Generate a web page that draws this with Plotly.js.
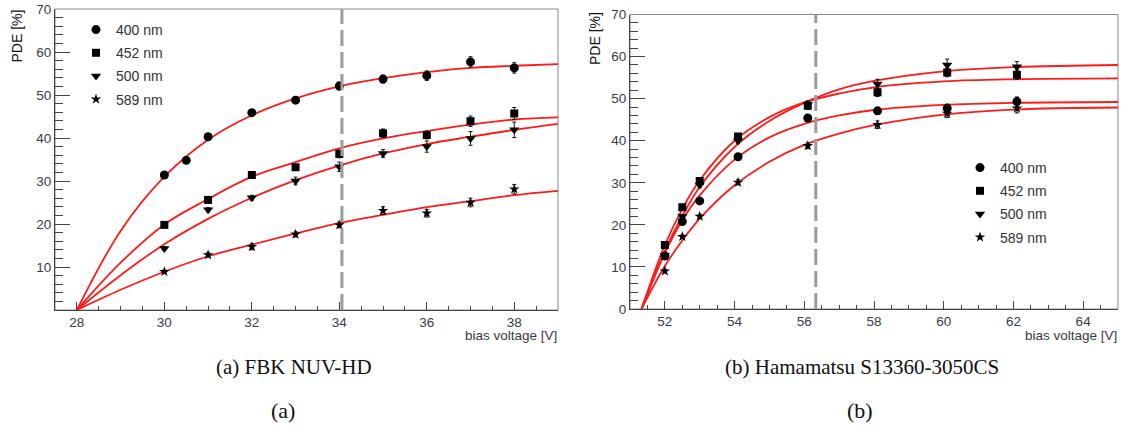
<!DOCTYPE html>
<html>
<head>
<meta charset="utf-8">
<script src="https://cdn.plot.ly/plotly-3.0.1.min.js"></script>
<style>
html,body{margin:0;padding:0;background:#fff;}
#chart{width:1131px;height:428px;}
</style>
</head>
<body>
<div id="chart"></div>
<script>
// ---------- Data: (a) FBK NUV-HD ----------
const seriesNames = ['400 nm', '452 nm', '500 nm', '589 nm'];

const fbkX400 = [30, 30.5, 31, 32, 33, 34, 35, 36, 37, 38];
const fbkY400 = [31.4, 34.8, 40.3, 45.9, 48.8, 52.1, 53.7, 54.5, 57.7, 56.3];
const fbkE400 = [0.4, 0.4, 0.5, 0.5, 0.6, 0.9, 0.9, 1.1, 1.2, 1.2];

const fbkX = [30, 31, 32, 33, 34, 35, 36, 37, 38];
const fbkY452 = [19.8, 25.6, 31.4, 33.2, 36.3, 41.1, 40.7, 43.9, 45.7];
const fbkE452 = [0.4, 0.5, 0.5, 0.6, 0.9, 1.0, 0.9, 1.2, 1.4];
const fbkY500 = [14.3, 23.3, 26.1, 30.0, 33.3, 36.4, 38.0, 39.9, 41.9];
const fbkE500 = [0.4, 0.5, 0.6, 0.9, 1.1, 0.9, 1.3, 1.6, 1.8];
const fbkY589 = [8.9, 12.8, 14.7, 17.6, 19.8, 23.1, 22.5, 25.0, 28.1];
const fbkE589 = [0.4, 0.5, 0.7, 0.6, 0.7, 0.9, 0.9, 1.0, 1.1];

// fitted curves
const fbkFitX = [28, 29, 30, 31, 32, 33, 34, 35, 36, 37, 38, 39];
const fbkFit400 = [0, 18.4, 31.0, 39.6, 45.3, 49.2, 52.0, 53.9, 55.3, 56.3, 56.8, 57.2];
const fbkFit452 = [0, 11.0, 19.9, 25.8, 31.0, 34.4, 37.6, 39.9, 41.6, 43.1, 44.3, 44.8];
const fbkFit500 = [0, 8.1, 15.3, 21.2, 26.1, 30.2, 33.6, 36.4, 38.6, 40.3, 41.9, 43.3];
const fbkFit589 = [0, 4.7, 8.9, 12.5, 15.2, 17.8, 20.2, 22.1, 23.9, 25.3, 26.7, 27.7];
const fbkCut = 34.06;

// ---------- Data: (b) Hamamatsu S13360-3050CS ----------
const hamX = [52, 52.5, 53, 54.1, 56.1, 58.1, 60.1, 62.1];
const hamY400 = [12.6, 20.8, 25.7, 36.2, 45.4, 47.1, 47.7, 49.3];
const hamE400 = [0.5, 0.5, 0.5, 0.6, 0.7, 0.8, 1.0, 1.1];
const hamY452 = [15.2, 24.2, 30.4, 41.0, 48.3, 51.5, 56.2, 55.7];
const hamE452 = [0.5, 0.5, 0.6, 0.7, 0.9, 1.0, 1.0, 1.1];
const hamY500 = [12.8, 22.0, 29.5, 40.0, 48.6, 53.5, 58.0, 57.6];
const hamE500 = [0.5, 0.5, 0.6, 0.7, 0.9, 1.1, 1.4, 1.2];
const hamY589 = [9.0, 17.2, 22.0, 30.1, 38.8, 43.8, 46.5, 47.7];
const hamE589 = [0.4, 0.4, 0.5, 0.6, 0.7, 0.9, 1.0, 1.1];

const hamFitX = [51.33, 52, 52.5, 53, 54, 55, 56, 57, 58, 60, 62, 65];
const hamFit400 = [0, 13.3, 21.1, 27.0, 35.5, 40.8, 44.0, 46.0, 47.3, 48.5, 49.0, 49.2];
const hamFit452 = [0, 15.2, 23.8, 30.6, 40.0, 45.6, 49.1, 51.2, 52.7, 54.1, 54.6, 54.8];
const hamFit500 = [0, 13.8, 22.1, 29.0, 38.5, 44.7, 49.0, 52.2, 54.2, 56.5, 57.5, 58.0];
const hamFit589 = [0, 10.2, 16.3, 21.5, 29.4, 35.0, 39.0, 41.7, 43.7, 46.2, 47.4, 47.9];
const hamCut = 56.33;

const fbkTicks = [28, 30, 32, 34, 36, 38];
const fbkYTicks = [10, 20, 30, 40, 50, 60, 70];
const hamTicks = [52, 54, 56, 58, 60, 62, 64];
const hamYTicks = [0, 10, 20, 30, 40, 50, 60, 70];

// ---------- Styles ----------
const symbols = ['circle', 'square', 'triangle-down', 'star'];
const msizes = [9, 8, 9, 8];
const red = '#ff1a1a';

function pts(x, y, e, i, xa, ya, leg) {
  return {
    type: 'scatter', mode: 'markers', x: x, y: y, xaxis: xa, yaxis: ya,
    name: seriesNames[i], legend: leg, showlegend: true, legendgroup: leg + i,
    marker: {symbol: symbols[i], size: msizes[i], color: '#000'},
    error_y: {type: 'data', array: e, visible: true, color: '#111', thickness: 1, width: 2},
    hoverinfo: 'x+y'
  };
}
function fit(x, y, xa, ya) {
  return {
    type: 'scatter', mode: 'lines', x: x, y: y, xaxis: xa, yaxis: ya,
    showlegend: false, line: {color: red, width: 1.8, shape: 'spline', smoothing: 1},
    hoverinfo: 'skip'
  };
}

const traces = [
  fit(fbkFitX, fbkFit400, 'x', 'y'),
  fit(fbkFitX, fbkFit452, 'x', 'y'),
  fit(fbkFitX, fbkFit500, 'x', 'y'),
  fit(fbkFitX, fbkFit589, 'x', 'y'),
  fit(hamFitX, hamFit400, 'x2', 'y2'),
  fit(hamFitX, hamFit452, 'x2', 'y2'),
  fit(hamFitX, hamFit500, 'x2', 'y2'),
  fit(hamFitX, hamFit589, 'x2', 'y2'),
  pts(fbkX400, fbkY400, fbkE400, 0, 'x', 'y', 'legend'),
  pts(fbkX, fbkY452, fbkE452, 1, 'x', 'y', 'legend'),
  pts(fbkX, fbkY500, fbkE500, 2, 'x', 'y', 'legend'),
  pts(fbkX, fbkY589, fbkE589, 3, 'x', 'y', 'legend'),
  pts(hamX, hamY400, hamE400, 0, 'x2', 'y2', 'legend2'),
  pts(hamX, hamY452, hamE452, 1, 'x2', 'y2', 'legend2'),
  pts(hamX, hamY500, hamE500, 2, 'x2', 'y2', 'legend2'),
  pts(hamX, hamY589, hamE589, 3, 'x2', 'y2', 'legend2')
];

const W = 1131, H = 428;
const tickFont = {family: 'Liberation Sans, Arial, sans-serif', size: 13.5, color: '#3a3a48'};
const axisCommon = {
  showgrid: false, zeroline: false, showline: true, linecolor: '#444', linewidth: 1,
  ticks: 'inside', tickcolor: '#444', tickwidth: 1, tickfont: tickFont, mirror: false,
  fixedrange: true
};

function xax(domain, range, tv, dmin) {
  return Object.assign({}, axisCommon, {
    domain: domain, range: range, tickmode: 'array', tickvals: tv, ticktext: tv.map(String),
    ticklen: 8, minor: {dtick: dmin, ticklen: 4, ticks: 'inside', tickcolor: '#444', tickwidth: 1}
  });
}
function yax(domain, tv, anchor) {
  return Object.assign({}, axisCommon, {
    domain: domain, range: [0, 70], tickmode: 'array', tickvals: tv, ticktext: tv.map(String),
    ticklen: 15, anchor: anchor,
    minor: {dtick: 2, tick0: 0, ticklen: 8, ticks: 'inside', tickcolor: '#444', tickwidth: 1}
  });
}

const legFont = {family: 'Liberation Sans, Arial, sans-serif', size: 14, color: '#333'};
const layout = {
  width: W, height: H,
  margin: {l: 0, r: 0, t: 0, b: 0},
  paper_bgcolor: '#fff', plot_bgcolor: '#fff',
  font: {family: 'Liberation Sans, Arial, sans-serif', color: '#333'},
  xaxis: Object.assign(xax([55 / W, 558 / W], [27.5, 39], fbkTicks, 0.5), {anchor: 'y'}),
  yaxis: yax([(H - 310) / H, (H - 9) / H], fbkYTicks, 'x'),
  xaxis2: Object.assign(xax([630 / W, 1118 / W], [51, 65], hamTicks, 0.5), {anchor: 'y2'}),
  yaxis2: yax([(H - 309) / H, (H - 14.5) / H], hamYTicks, 'x2'),
  legend: {
    x: 76 / W, y: (H - 14) / H, xanchor: 'left', yanchor: 'top',
    bgcolor: 'rgba(0,0,0,0)', borderwidth: 0, tracegroupgap: 2,
    font: legFont, itemclick: false, itemdoubleclick: false
  },
  legend2: {
    x: 960 / W, y: (H - 152) / H, xanchor: 'left', yanchor: 'top',
    bgcolor: 'rgba(0,0,0,0)', borderwidth: 0, tracegroupgap: 2,
    font: legFont, itemclick: false, itemdoubleclick: false
  },
  shapes: [
    {type: 'rect', xref: 'x domain', yref: 'y domain', x0: 0, x1: 1, y0: 0, y1: 1,
     line: {color: '#8a8a8a', width: 1}, layer: 'below'},
    {type: 'rect', xref: 'x2 domain', yref: 'y2 domain', x0: 0, x1: 1, y0: 0, y1: 1,
     line: {color: '#8a8a8a', width: 1}, layer: 'below'},
    {type: 'line', xref: 'x', yref: 'y', x0: fbkCut, x1: fbkCut, y0: 0, y1: 70,
     line: {color: '#9c9c9c', width: 3, dash: '16px,6px'}},
    {type: 'line', xref: 'x2', yref: 'y2', x0: hamCut, x1: hamCut, y0: 0, y1: 70,
     line: {color: '#9c9c9c', width: 3, dash: '16px,6px'}}
  ],
  annotations: [
    {text: 'PDE [%]', xref: 'paper', yref: 'paper', x: 17 / W, y: (H - 36.5) / H,
     textangle: -90, showarrow: false, xanchor: 'center', yanchor: 'middle',
     font: {family: 'Liberation Sans, Arial, sans-serif', size: 14, color: '#111'}},
    {text: 'PDE [%]', xref: 'paper', yref: 'paper', x: 595 / W, y: (H - 39) / H,
     textangle: -90, showarrow: false, xanchor: 'center', yanchor: 'middle',
     font: {family: 'Liberation Sans, Arial, sans-serif', size: 14, color: '#111'}},
    {text: 'bias voltage [V]', xref: 'paper', yref: 'paper', x: 559 / W, y: (H - 335) / H,
     showarrow: false, xanchor: 'right', yanchor: 'middle',
     font: {family: 'Liberation Sans, Arial, sans-serif', size: 13.5, color: '#3a3a48'}},
    {text: 'bias voltage [V]', xref: 'paper', yref: 'paper', x: 1119 / W, y: (H - 335) / H,
     showarrow: false, xanchor: 'right', yanchor: 'middle',
     font: {family: 'Liberation Sans, Arial, sans-serif', size: 13.5, color: '#3a3a48'}},
    {text: '(a) FBK NUV-HD', xref: 'paper', yref: 'paper', x: 294 / W, y: (H - 367) / H,
     showarrow: false, xanchor: 'center', yanchor: 'middle',
     font: {family: 'Liberation Serif, serif', size: 21, color: '#111'}},
    {text: '(b) Hamamatsu S13360-3050CS', xref: 'paper', yref: 'paper', x: 862 / W, y: (H - 367) / H,
     showarrow: false, xanchor: 'center', yanchor: 'middle',
     font: {family: 'Liberation Serif, serif', size: 21, color: '#111'}},
    {text: '(a)', xref: 'paper', yref: 'paper', x: 283 / W, y: (H - 410) / H,
     showarrow: false, xanchor: 'center', yanchor: 'middle',
     font: {family: 'Liberation Serif, serif', size: 22, color: '#111'}},
    {text: '(b)', xref: 'paper', yref: 'paper', x: 860 / W, y: (H - 410) / H,
     showarrow: false, xanchor: 'center', yanchor: 'middle',
     font: {family: 'Liberation Serif, serif', size: 22, color: '#111'}}
  ]
};

Plotly.newPlot('chart', traces, layout, {displayModeBar: false, staticPlot: true});
</script>
</body>
</html>
